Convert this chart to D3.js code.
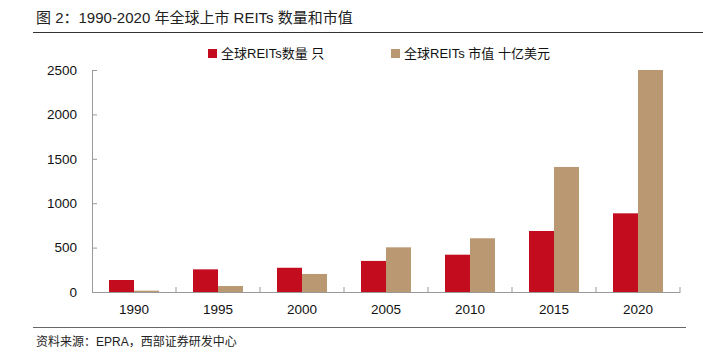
<!DOCTYPE html>
<html>
<head>
<meta charset="utf-8">
<script src="https://cdn.jsdelivr.net/npm/d3@7"></script>
<style>
  body { margin: 0; background: #fff; }
  text { font-family: "Liberation Sans", Arial, "Noto Sans CJK SC", sans-serif; }
</style>
</head>
<body>
<script>
// data
const years = ['1990', '1995', '2000', '2005', '2010', '2015', '2020'];
const countValues = [135, 255, 273, 350, 420, 687, 886];        // 全球REITs数量 只
const capValues = [15, 67, 203, 503, 605, 1408, 2500];          // 全球REITs 市值 十亿美元
const yTicks = [0, 500, 1000, 1500, 2000, 2500];
const seriesNames = ['全球REITs数量 只', '全球REITs 市值 十亿美元'];
const colors = ['#C30D1E', '#B99872'];

const width = 703, height = 358;
const margin = {top: 70, right: 23, bottom: 66, left: 92};

const svg = d3.select('body').append('svg')
  .attr('width', width)
  .attr('height', height);

// title + rules
svg.append('text')
  .attr('x', 36).attr('y', 23)
  .attr('font-size', 15)
  .attr('fill', '#222')
  .text('图 2：1990-2020 年全球上市 REITs 数量和市值');
svg.append('line')
  .attr('x1', 33).attr('x2', 703).attr('y1', 32.5).attr('y2', 32.5)
  .attr('stroke', '#333').attr('stroke-width', 1);
svg.append('line')
  .attr('x1', 33).attr('x2', 686).attr('y1', 327.5).attr('y2', 327.5)
  .attr('stroke', '#666').attr('stroke-width', 1);
svg.append('text')
  .attr('x', 36).attr('y', 346)
  .attr('font-size', 12)
  .attr('fill', '#222')
  .text('资料来源：EPRA，西部证券研发中心');

const x = d3.scaleBand()
  .domain(years)
  .range([margin.left, width - margin.right]);

const y = d3.scaleLinear()
  .domain([0, 2500])
  .range([height - margin.bottom, margin.top]);

const barW = 25;
const series = [countValues, capValues];

const g = svg.append('g');
series.forEach((vals, si) => {
  g.selectAll('.bar' + si)
    .data(vals)
    .enter().append('rect')
    .attr('x', (d, i) => x(years[i]) + x.bandwidth() / 2 - barW + si * barW)
    .attr('y', d => y(d))
    .attr('width', barW)
    .attr('height', d => y(0) - y(d))
    .attr('fill', colors[si]);
});

// y axis
const yAxis = svg.append('g')
  .attr('transform', 'translate(' + margin.left + ',0)')
  .call(d3.axisLeft(y).tickValues(yTicks).tickFormat(d3.format('d'))
    .tickSize(5).tickPadding(10).tickSizeOuter(0));
yAxis.select('.domain').attr('stroke', '#999');
yAxis.selectAll('.tick line').attr('stroke', '#999').attr('transform', 'translate(5,0)');
yAxis.selectAll('.tick text').attr('font-size', 13.5).attr('fill', '#111')
  .attr('font-family', '"Liberation Sans", Arial, sans-serif');

// x axis
const xAxis = svg.append('g')
  .attr('transform', 'translate(0,' + y(0) + ')')
  .call(d3.axisBottom(x).tickSize(0).tickPadding(12));
xAxis.select('.domain').attr('stroke', '#999').attr('stroke-width', 1.2);
xAxis.selectAll('.tick text').attr('font-size', 13.5).attr('fill', '#111')
  .attr('font-family', '"Liberation Sans", Arial, sans-serif');
// separators between categories
xAxis.selectAll('.sep')
  .data(years.slice(1).concat(['end']))
  .enter().append('line')
  .attr('x1', (d, i) => margin.left + x.step() * (i + 1))
  .attr('x2', (d, i) => margin.left + x.step() * (i + 1))
  .attr('y1', 0).attr('y2', -5)
  .attr('stroke', '#999');

// legend
const legendX = [208, 391];
seriesNames.forEach((name, i) => {
  const lg = svg.append('g').attr('transform', 'translate(' + legendX[i] + ',49)');
  lg.append('rect')
    .attr('width', 9).attr('height', 9)
    .attr('fill', colors[i]);
  lg.append('text')
    .attr('x', 13).attr('y', 9)
    .attr('font-size', 13)
    .attr('fill', '#111')
    .text(name);
});
</script>
</body>
</html>
